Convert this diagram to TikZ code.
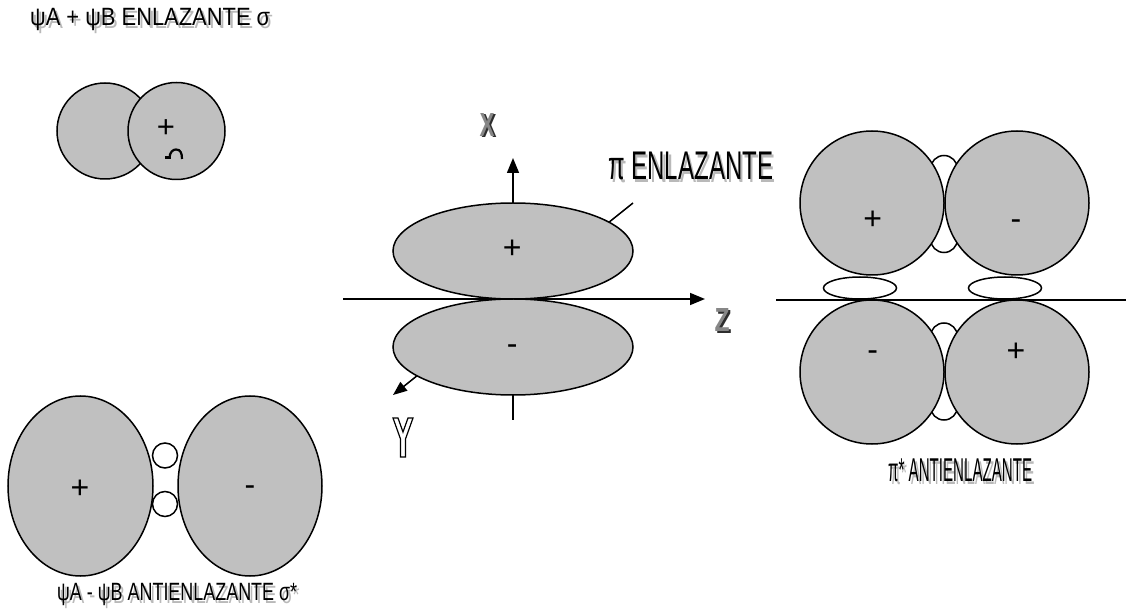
\documentclass[tikz,border=0pt]{standalone}
\usepackage{fontspec}
\setmainfont{Liberation Sans}
\usepackage{graphicx}
\usetikzlibrary{arrows.meta,shapes.geometric}

\definecolor{lobe}{RGB}{192,192,192}
\definecolor{capgray}{RGB}{185,185,185}
\definecolor{metaldark}{RGB}{45,45,45}
\definecolor{metallight}{RGB}{135,135,135}

\tikzset{
  lobe/.style={draw=black, line width=1.5pt, fill=lobe, inner sep=0pt},
  node/.style={draw=black, line width=1.5pt, fill=white, inner sep=0pt},
  capsule/.style={node, rectangle, rounded corners=13.5pt, minimum width=27pt, minimum height=97pt},
  axis/.style={line width=1.5pt},
  tip/.style={-{Triangle[length=15pt,width=12pt]}},
  capfront/.style={anchor=base west, inner sep=0pt, text=black},
  capshadow/.style={anchor=base west, inner sep=0pt, text=capgray},
  sign/.style={anchor=base, inner sep=0pt, font=\fontsize{32}{32}\selectfont},
  metal/.style={inner sep=0pt, text=metallight},
  metalshade/.style={inner sep=0pt, text=metaldark}
}

% caption with a soft grey drop shadow: name, base point, size, width, text
\newcommand\capline[5]{%
  \node[capshadow, xshift=2.5pt, yshift=-3pt] at (#2)
    {\fontsize{#3}{#3}\selectfont\resizebox{#4}{\height}{#5}};
  \node[capfront] (#1) at (#2)
    {\fontsize{#3}{#3}\selectfont\resizebox{#4}{\height}{#5}};}

% bevelled axis letter
\newcommand\axisletter[3]{%
  \node[metalshade, xshift=2pt, yshift=-1.5pt] at (#2)
    {\resizebox{15pt}{23pt}{\bfseries #3}};
  \node[metal] (#1) at (#2) {\resizebox{15pt}{23pt}{\bfseries #3}};}

\begin{document}
\begin{tikzpicture}[x=1pt,y=-1pt]
\useasboundingbox (0,0) rectangle (1128,612);

% ---- sigma bonding (top left)
\capline{sigtitle}{30,26}{25}{240pt}{ψA + ψB ENLAZANTE σ}
\node[lobe, circle, minimum size=96pt] (sa) at (105,131) {};
\node[lobe, circle, minimum size=97pt] (sb) at (176.5,131) {};
\node[sign, font=\fontsize{31}{31}\selectfont] (sbp) at (166,138) {+};
\draw[line width=2.2pt] (165,157.5) -- (171,157.5);
\draw[line width=2.2pt] (169.5,158.5) .. controls (169.5,152) and (173,149.5) .. (176,149.5)
  .. controls (180.5,149.5) and (182,153) .. (182,159);

% ---- sigma antibonding (bottom left)
\node[lobe, ellipse, minimum width=145pt, minimum height=180pt] (aa) at (80.5,486) {};
\node[lobe, ellipse, minimum width=144pt, minimum height=180pt] (ab) at (250,486) {};
\node[node, circle, minimum size=25pt] (n1) at (165,455.5) {};
\node[node, circle, minimum size=25pt] (n2) at (165,504) {};
\node[sign] (aap) at (80,498.5) {+};
\node[sign] (abm) at (250,495.5) {-};
\capline{antititle}{57,600}{25}{240pt}{ψA - ψB ANTIENLAZANTE σ*}

% ---- axes and pi lobes (centre)
\coordinate (xbot) at (513,420);
\coordinate (xtop) at (513,158);
\coordinate (zl) at (343,299);
\coordinate (zr) at (705,299);
\coordinate (yback) at (633,203);
\coordinate (yfront) at (393,395);
\draw[axis, tip] (xbot) -- (xtop);
\draw[axis, tip] (zl) -- (zr);
\draw[axis, -{Triangle[length=14pt,width=11pt]}] (yback) -- (yfront);
\node[lobe, ellipse, minimum width=240pt, minimum height=96pt] (pup) at (513,251) {};
\node[lobe, ellipse, minimum width=240pt, minimum height=96pt] (pdn) at (513,347) {};
\node[sign] (pupp) at (512.3,258.8) {+};
\node[sign] (pdnm) at (512.3,354.5) {-};
\axisletter{lx}{487,125}{X}
\axisletter{lz}{722,320}{Z}
\draw[line width=1.2pt, fill=white] (393,418) -- (398,418) -- (403,432) -- (408,418) -- (413,418)
  -- (405.5,439) -- (405.5,457) -- (400.5,457) -- (400.5,439) -- cycle;
\capline{pititle}{608,180}{40}{165pt}{π ENLAZANTE}

% ---- pi antibonding (right)
\coordinate (rl) at (776,300);
\coordinate (rr) at (1126,300);
\draw[axis] (rl) -- (rr);
\node[capsule] (nu) at (944,204) {};
\node[capsule] (nd) at (944,371.5) {};
\node[node, ellipse, minimum width=73pt, minimum height=22pt] (fl) at (860,288) {};
\node[node, ellipse, minimum width=73pt, minimum height=22pt] (fr) at (1005,288) {};
\node[lobe, circle, minimum size=144pt] (ul) at (872,203) {};
\node[lobe, circle, minimum size=144pt] (ur) at (1017,203) {};
\node[lobe, circle, minimum size=144pt] (ll) at (872,372) {};
\node[lobe, circle, minimum size=144pt] (lr) at (1017,372) {};
\node[sign] (ulp) at (872.7,229.5) {+};
\node[sign] (urm) at (1016,230) {-};
\node[sign] (llm) at (872.7,361) {-};
\node[sign] (lrp) at (1016,361.5) {+};
\capline{pistar}{888,482}{33}{144pt}{π* ANTIENLAZANTE}

\end{tikzpicture}
\end{document}
